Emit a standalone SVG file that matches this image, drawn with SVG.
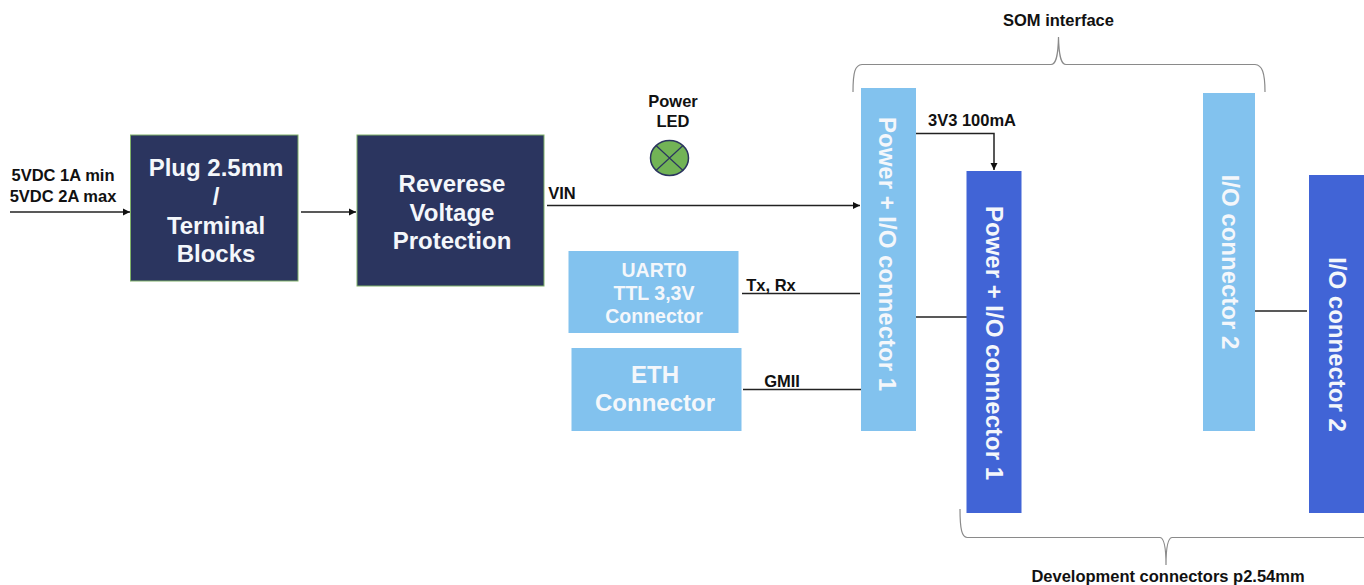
<svg xmlns="http://www.w3.org/2000/svg" width="1364" height="585" viewBox="0 0 1364 585">
<style>
text{font-family:"Liberation Sans",Arial,sans-serif;font-weight:700;text-anchor:middle}
.lbl{font-size:16.5px;fill:#111}
.w{fill:#f4f7fb}
.big{font-size:24px}
.mid{font-size:19.500px}
.dark{fill:#2b355f;stroke:#7fb069;stroke-width:1}
.light{fill:#82c2ee}
.blue{fill:#4164d6}
.line{fill:none;stroke:#222;stroke-width:1.5}
.brace{fill:none;stroke:#8a8a8a;stroke-width:1.2}
</style>
<defs><marker id="arr" markerUnits="userSpaceOnUse" markerWidth="8" markerHeight="8" refX="7" refY="4" orient="auto"><path d="M0 0.5L7 4L0 7.5z" fill="#111"/></marker></defs>
<rect width="1364" height="585" fill="#fff"/>
<g id="connectors">
<path class="line" d="M10 212H130" marker-end="url(#arr)"/>
<path class="line" d="M301 212H356" marker-end="url(#arr)"/>
<path class="line" d="M547 205.500H860" marker-end="url(#arr)"/>
<path class="line" d="M742 293.500H860"/>
<path class="line" d="M743 389.500H861"/>
<path class="line" d="M915 133.500H994V170" marker-end="url(#arr)"/>
<path class="line" d="M915 317H967"/>
<path class="line" d="M1255 311H1307"/>
<path class="brace" d="M853 92C853 72 855 65 862 64.500H1051C1055 64.500 1058 60 1058.500 37C1059 60 1062 64.500 1066 64.500H1255C1262 65 1265 72 1265 92"/>
<path class="brace" d="M960 509C960 530 962 537 967 537.500H1160C1164 538 1166 545 1166 565C1166 545 1168 538 1172 537.500H1364"/>
</g>
<g id="input-label"><text class="lbl" x="63" y="181">5VDC 1A min</text><text class="lbl" x="63" y="202">5VDC 2A max</text></g>
<g id="plug"><rect class="dark" x="130.500" y="135" width="167.500" height="146"/><g class="w big"><text x="216" y="176">Plug 2.5mm</text><text x="216" y="205">/</text><text x="216" y="234">Terminal</text><text x="216" y="262">Blocks</text></g></g>
<g id="reverse"><rect class="dark" x="357" y="135" width="187" height="151"/><g class="w big"><text x="452" y="192">Reverese</text><text x="452" y="221">Voltage</text><text x="452" y="249">Protection</text></g></g>
<g id="power-led"><text class="lbl" x="673" y="107">Power</text><text class="lbl" x="673" y="127">LED</text><ellipse cx="669.500" cy="158" rx="19" ry="17.500" fill="#72b356" stroke="#2b355f" stroke-width="1.5"/><path d="M656 145.500L683 170.500M683 145.500L656 170.500" stroke="#2b355f" stroke-width="1.2"/></g>
<text class="lbl" x="562" y="199">VIN</text>
<g id="uart"><rect class="light" x="568.500" y="251" width="170" height="82"/><g class="w mid"><text x="654" y="277">UART0</text><text x="654" y="300">TTL 3,3V</text><text x="654" y="323">Connector</text></g></g>
<text class="lbl" x="771" y="291">Tx, Rx</text>
<g id="eth"><rect class="light" x="571.500" y="348" width="170" height="83"/><g class="w big"><text x="655" y="383">ETH</text><text x="655" y="411">Connector</text></g></g>
<text class="lbl" x="782" y="387">GMII</text>
<g id="som1"><rect class="light" x="861" y="88" width="55" height="343"/><text class="w big" transform="translate(879 254) rotate(90)">Power + I/O connector 1</text></g>
<text class="lbl" x="972" y="126">3V3 100mA</text>
<g id="dev1"><rect class="blue" x="966.500" y="171" width="55" height="342"/><text class="w big" transform="translate(986 343) rotate(90)">Power + I/O connector 1</text></g>
<g id="som2"><rect class="light" x="1203" y="93" width="52" height="338"/><text class="w big" transform="translate(1222 262) rotate(90)">I/O connector 2</text></g>
<g id="dev2"><rect class="blue" x="1309" y="175" width="55" height="338"/><text class="w big" transform="translate(1329 344.500) rotate(90)">I/O connector 2</text></g>
<text class="lbl" x="1058.500" y="26">SOM interface</text>
<text class="lbl" x="1168" y="582">Development connectors p2.54mm</text>
</svg>
